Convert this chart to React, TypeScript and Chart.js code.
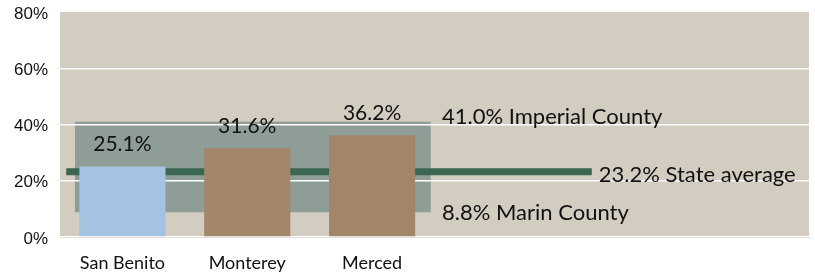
import React, { useEffect, useRef } from 'react';
import { Chart, registerables } from 'chart.js';

Chart.register(...registerables);

// ---- data ----
const categories = ['San Benito', 'Monterey', 'Merced', '', '', ''];
const values: (number | null)[] = [25.1, 31.6, 36.2, null, null, null];
const barColors = ['#A4C2E1', '#A3856A', '#A3856A', '#A3856A', '#A3856A', '#A3856A'];
const yTicks = [0, 20, 40, 60, 80];
const stateAverage = 23.2;
const rangeHigh = 41.0;
const rangeLow = 8.8;
const stateLabel = '23.2% State average';
const highLabel = '41.0% Imperial County';
const lowLabel = '8.8% Marin County';

const GILL = 'Lato, "Open Sans", sans-serif';

const overlayPlugin = {
  id: 'overlay',
  beforeDraw(chart: any) {
    const { ctx, chartArea: a, scales } = chart;
    const x = scales.x;
    const y = scales.y;
    const x0 = x.getPixelForValue(0);
    const W = x.getPixelForValue(1) - x0;
    ctx.save();
    ctx.fillStyle = '#D3CCC0';
    ctx.fillRect(a.left, a.top, a.right - a.left, a.bottom - a.top);
    const bl = x0 - 0.38 * W;
    const br = x0 + 2.47 * W;
    const yt = y.getPixelForValue(rangeHigh);
    const yb = y.getPixelForValue(rangeLow);
    ctx.fillStyle = '#8E9E97';
    ctx.fillRect(bl, yt, br - bl, yb - yt);
    ctx.restore();
  },
  beforeDatasetsDraw(chart: any) {
    const { ctx, scales } = chart;
    const x = scales.x;
    const y = scales.y;
    const x0 = x.getPixelForValue(0);
    const W = x.getPixelForValue(1) - x0;
    const ly = y.getPixelForValue(stateAverage);
    ctx.save();
    ctx.fillStyle = '#3A6652';
    const l = x0 - 0.45 * W;
    const r = x0 + 3.76 * W;
    ctx.fillRect(l, ly - 3.5, r - l, 7);
    ctx.restore();
  },
  afterDatasetsDraw(chart: any) {
    const { ctx, scales } = chart;
    const x = scales.x;
    const y = scales.y;
    const x0 = x.getPixelForValue(0);
    const W = x.getPixelForValue(1) - x0;
    ctx.save();
    ctx.fillStyle = '#111111';
    ctx.font = `21px ${GILL}`;
    ctx.textBaseline = 'alphabetic';
    ctx.textAlign = 'center';
    const meta = chart.getDatasetMeta(0);
    meta.data.forEach((bar: any, i: number) => {
      const v = values[i];
      if (v == null) return;
      ctx.fillText(`${v.toFixed(1)}%`, bar.x, bar.y - 15);
    });
    ctx.font = `22px ${GILL}`;
    ctx.textAlign = 'left';
    const tx = x0 + 2.56 * W;
    ctx.fillText(highLabel, tx, y.getPixelForValue(rangeHigh) + 2);
    ctx.fillText(lowLabel, tx, y.getPixelForValue(rangeLow) + 8);
    const sx = x0 + 3.76 * W + 7;
    ctx.fillText(stateLabel, sx, y.getPixelForValue(stateAverage) + 10);
    ctx.restore();
  },
};

export default function App() {
  const ref = useRef<HTMLCanvasElement>(null);
  useEffect(() => {
    if (!ref.current) return;
    const chart = new Chart(ref.current, {
      type: 'bar',
      data: {
        labels: categories,
        datasets: [
          {
            data: values as any,
            backgroundColor: barColors,
            barPercentage: 0.69,
            categoryPercentage: 1,
          },
        ],
      },
      options: {
        responsive: false,
        animation: false,
        layout: { padding: { top: 12, right: 6, left: 0, bottom: 0 } },
        plugins: { legend: { display: false }, tooltip: { enabled: false } },
        scales: {
          x: {
            grid: { display: false },
            border: { display: true, color: '#E4E0D8', width: 1 },
            ticks: {
              color: '#111111',
              font: { family: GILL, size: 18 },
              padding: 7,
              maxRotation: 0,
              autoSkip: false,
            },
            afterFit(scale: any) {
              scale.height = 40;
            },
          },
          y: {
            min: 0,
            max: 80,
            afterBuildTicks(scale: any) {
              scale.ticks = yTicks.map((v) => ({ value: v }));
            },
            grid: {
              color: (c: any) => (c.tick && c.tick.value === 80 ? 'rgba(0,0,0,0)' : '#FFFFFF'),
              lineWidth: 1.5,
              drawTicks: false,
            },
            border: { display: false },
            ticks: {
              color: '#111111',
              font: { family: '"Liberation Sans", Arial, sans-serif', size: 17 },
              padding: 12,
              labelOffset: 2,
              callback: (v: any) => `${v}%`,
            },
            afterFit(scale: any) {
              scale.width = 60;
              scale.paddingTop = 0;
              scale.paddingBottom = 0;
            },
          },
        },
      },
      plugins: [overlayPlugin],
    });
    return () => chart.destroy();
  }, []);
  return (
    <div style={{ position: 'fixed', left: 0, top: 0, width: 815, height: 277, background: '#fff' }}>
      <canvas ref={ref} width={815} height={277} style={{ display: 'block' }} />
    </div>
  );
}
